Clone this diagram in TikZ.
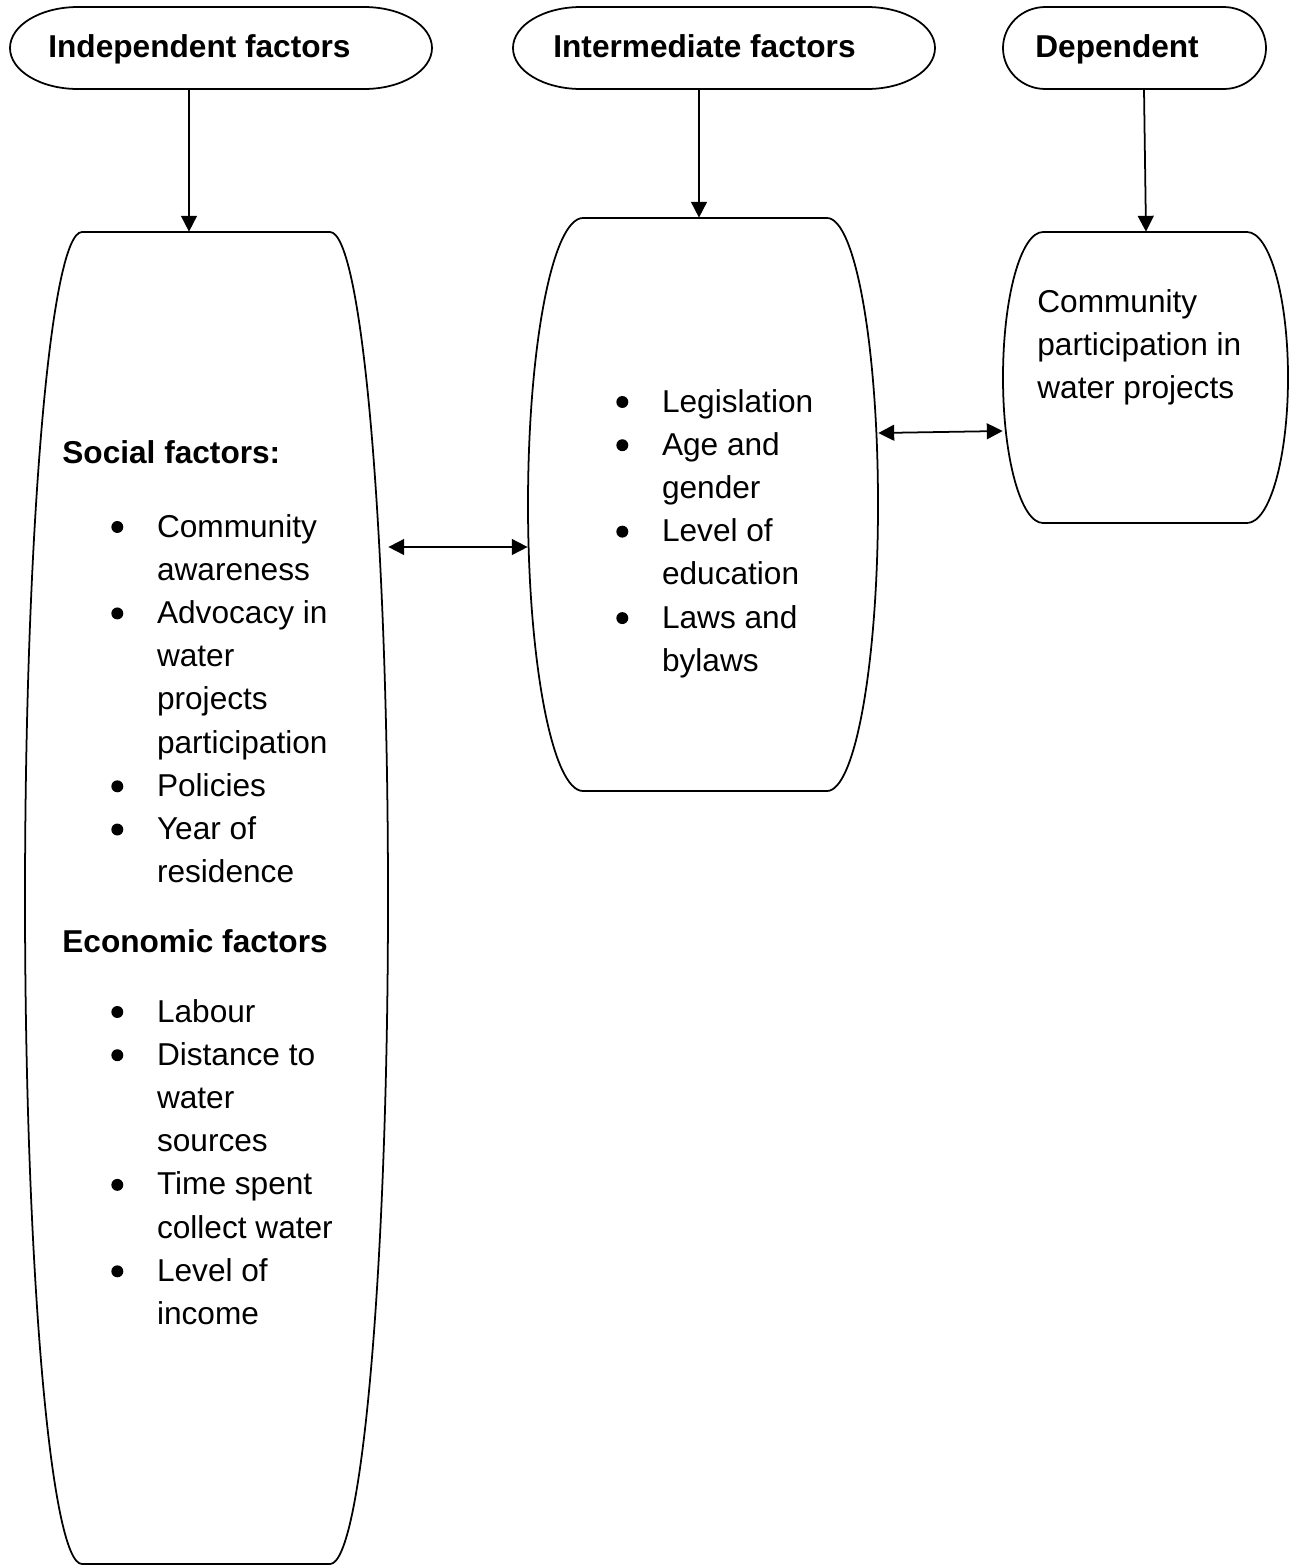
\documentclass[tikz,border=0pt]{standalone}
\usepackage{fontspec}
\setmainfont{Liberation Sans}
\usetikzlibrary{arrows.meta,fit}
\tikzset{
    %Define standard arrow tip
    >={Triangle[length=9pt,width=9pt]},
    %Define style for outlines
    outline/.style={
           draw=black,
           line width=1pt},
    %Define style for text blocks
    txt/.style={
           anchor=base west,
           inner sep=0pt,
           font=\fontsize{18}{24.6}\selectfont},
    hold/.style={inner sep=0pt},
    % Define arrow styles
    conn/.style={
           ->,
           line width=1pt},
    conn2/.style={
           <->,
           line width=1pt}
}
% bullet of the lists
\newcommand\bul{\raisebox{2.3pt}{\tikz\fill (0,0) circle (3.4pt);}}
% terminator: name, left, right, top, bottom
\newcommand\termshape[5]{%
  \pgfmathsetmacro\trx{0.161*(#3-#2)}
  \pgfmathsetmacro\tmid{(#4+#5)/2}
  \pgfmathsetmacro\tkb{0.5523*(#5-#4)/2}
  \pgfmathsetmacro\tka{0.5523*\trx}
  \draw[outline] ({#2+\trx},#4) -- ({#3-\trx},#4)
     .. controls ({#3-\trx+\tka},#4) and (#3,{\tmid-\tkb}) .. (#3,\tmid)
     .. controls (#3,{\tmid+\tkb}) and ({#3-\trx+\tka},#5) .. ({#3-\trx},#5)
     -- ({#2+\trx},#5)
     .. controls ({#2+\trx-\tka},#5) and (#2,{\tmid+\tkb}) .. (#2,\tmid)
     .. controls (#2,{\tmid-\tkb}) and ({#2+\trx-\tka},#4) .. cycle;
  \node[hold, fit={(#2,#4) (#3,#5)}] (#1) {};
}
% drum: name, left corner, right corner, top, bottom, left bulge, right bulge
\newcommand\drumshape[7]{%
  \pgfmathsetmacro\tmid{(#4+#5)/2}
  \pgfmathsetmacro\tkb{0.5523*(#5-#4)/2}
  \draw[outline] (#2,#4) -- (#3,#4)
     .. controls ({#3+0.5523*(#7-#3)},#4) and (#7,{\tmid-\tkb}) .. (#7,\tmid)
     .. controls (#7,{\tmid+\tkb}) and ({#3+0.5523*(#7-#3)},#5) .. (#3,#5)
     -- (#2,#5)
     .. controls ({#2-0.5523*(#2-#6)},#5) and (#6,{\tmid+\tkb}) .. (#6,\tmid)
     .. controls (#6,{\tmid-\tkb}) and ({#2-0.5523*(#2-#6)},#4) .. cycle;
  \node[hold, fit={(#6,#4) (#7,#5)}] (#1) {};
}

\begin{document}
\begin{tikzpicture}[x=0.02cm,y=-0.02cm]
\useasboundingbox (0,0) rectangle (1297,1566);
% headers
\termshape{indep}{10}{432}{7}{89}
\termshape{inter}{513}{935}{7}{89}
\termshape{dep}{1003}{1266}{7}{89}
\node[txt](indep-t) at (48,57) {\bfseries Independent factors};
\node[txt](inter-t) at (553,57) {\bfseries Intermediate factors};
\node[txt](dep-t) at (1035,57) {\bfseries Dependent};
% boxes
\drumshape{social}{82}{330}{232}{1564}{25}{388}
\drumshape{legal}{583}{827}{218}{791}{528}{878}
\drumshape{partic}{1043}{1247}{232}{523}{1003}{1288}
% left box
\node[txt](social-h) at (62,463) {\bfseries Social factors:};
\node[txt](social-l) at (111,537) {\begin{tabular}[t]{@{}p{26pt}@{}l@{}}
  \bul & Community\\ & awareness\\
  \bul & Advocacy in\\ & water\\ & projects\\ & participation\\
  \bul & Policies\\
  \bul & Year of\\ & residence
\end{tabular}};
\node[txt](econ-h) at (62,952) {\bfseries Economic factors};
\node[txt](econ-l) at (111,1022) {\begin{tabular}[t]{@{}p{26pt}@{}l@{}}
  \bul & Labour\\
  \bul & Distance to\\ & water\\ & sources\\
  \bul & Time spent\\ & collect water\\
  \bul & Level of\\ & income
\end{tabular}};
% middle box
\node[txt](legal-l) at (616,412) {\begin{tabular}[t]{@{}p{26pt}@{}l@{}}
  \bul & Legislation\\
  \bul & Age and\\ & gender\\
  \bul & Level of\\ & education\\
  \bul & Laws and\\ & bylaws
\end{tabular}};
% right box
\node[txt](partic-t) at (1037,312) {\begin{tabular}[t]{@{}l@{}}
  Community\\ participation in\\ water projects
\end{tabular}};
% connectors
\draw[conn] (indep.south -| 189,0) -- (social.north -| 189,0);
\draw[conn] (inter.south -| 699,0) -- (legal.north -| 699,0);
\draw[conn] (dep.south -| 1144,0) -- (partic.north -| 1146,0);
\draw[conn2] (social.east |- 0,547) -- (legal.west |- 0,547);
\draw[conn2] (legal.east |- 0,433) -- (partic.west |- 0,431);
\end{tikzpicture}
\end{document}
